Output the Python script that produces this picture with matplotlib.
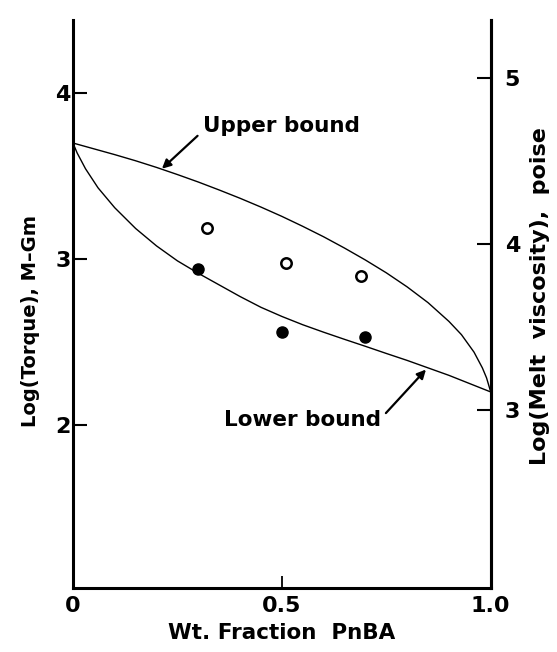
import numpy as np
import matplotlib.pyplot as plt

plt.rcParams['font.family'] = ['DejaVu Sans']
plt.rcParams['font.weight'] = 'bold'

# bounds (wt fraction PnBA, log torque)
upper_x = [0.0, 0.05, 0.1, 0.15, 0.2, 0.25, 0.3, 0.35, 0.4, 0.45, 0.5, 0.55,
           0.6, 0.65, 0.7, 0.75, 0.8, 0.85, 0.9, 0.93, 0.96, 0.98, 0.99, 1.0]
upper_y = [3.70, 3.665, 3.63, 3.593, 3.553, 3.51, 3.465, 3.417, 3.367, 3.314,
           3.258, 3.198, 3.135, 3.067, 2.995, 2.918, 2.833, 2.738, 2.625, 2.545,
           2.44, 2.345, 2.285, 2.20]
lower_x = [0.0, 0.01, 0.03, 0.06, 0.1, 0.15, 0.2, 0.25, 0.3, 0.35, 0.4, 0.45,
           0.5, 0.55, 0.6, 0.65, 0.7, 0.75, 0.8, 0.85, 0.9, 0.95, 1.0]
lower_y = [3.70, 3.64, 3.545, 3.43, 3.31, 3.185, 3.08, 2.99, 2.915, 2.845, 2.775,
           2.71, 2.655, 2.605, 2.56, 2.517, 2.475, 2.432, 2.39, 2.345, 2.30, 2.25,
           2.20]

# measured points
open_x = [0.32, 0.51, 0.69]
open_y = [3.19, 2.975, 2.90]
filled_x = [0.30, 0.50, 0.70]
filled_y = [2.94, 2.56, 2.53]

fig = plt.figure(figsize=(5.57, 6.52), dpi=100)
ax = fig.add_axes([0.131, 0.098, 0.750, 0.871])

ax.plot(upper_x, upper_y, color='black', lw=1.0)
ax.plot(lower_x, lower_y, color='black', lw=1.0)
ax.plot(open_x, open_y, 'o', mfc='white', mec='black', mew=1.8, ms=7.5)
ax.plot(filled_x, filled_y, 'o', color='black', ms=8)

ax.set_xlim(0, 1.0)
ax.set_ylim(1.018, 4.44)
ax.set_xticks([0, 0.5, 1.0])
ax.set_xticklabels(['0', '0.5', '1.0'])
ax.set_yticks([2, 3, 4])
ax.tick_params(axis='x', direction='in', length=9, width=1.3, pad=6, labelsize=16)
ax.tick_params(axis='y', direction='in', length=10, width=1.5, pad=1.5, labelsize=16)
ax.spines['top'].set_visible(False)
for s in ['left', 'bottom', 'right']:
    ax.spines[s].set_linewidth(2.2)
ax.set_xlabel('Wt. Fraction  PnBA', fontsize=15.5, fontweight='bold', labelpad=5)
ax.set_ylabel('Log(Torque), M–Gm', fontsize=14, fontweight='bold')
ax.yaxis.set_label_coords(-0.08, 0.47)

ax2 = ax.twinx()
ax2.set_ylim(1.018 + 0.91, 4.44 + 0.91)
ax2.set_yticks([3, 4, 5])
ax2.tick_params(axis='y', direction='in', length=10, width=1.5, pad=10, labelsize=16)
ax2.spines['top'].set_visible(False)
ax2.spines['right'].set_linewidth(2.2)
ax2.set_ylabel('Log(Melt  viscosity),  poise', fontsize=16, fontweight='bold')
ax2.yaxis.set_label_coords(1.095, 0.515)

ax.annotate('Upper bound', xy=(0.213, 3.545), xytext=(0.50, 3.80),
            fontsize=15.5, fontweight='bold', ha='center', va='center',
            arrowprops=dict(arrowstyle='-|>', color='black', lw=1.6,
                            shrinkA=3, shrinkB=0, mutation_scale=13,
                            relpos=(0.0, 0.3)))
ax.annotate('Lower bound', xy=(0.845, 2.335), xytext=(0.55, 2.03),
            fontsize=15.5, fontweight='bold', ha='center', va='center',
            arrowprops=dict(arrowstyle='-|>', color='black', lw=1.6,
                            shrinkA=2, shrinkB=0, mutation_scale=13,
                            relpos=(1.0, 0.6)))

fig.savefig('out.png', dpi=100)
